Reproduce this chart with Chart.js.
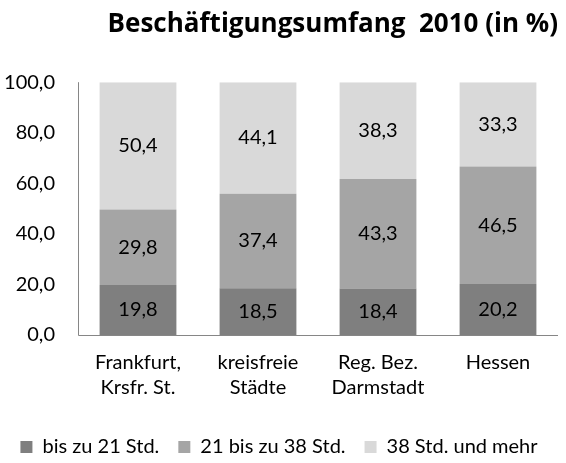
<!DOCTYPE html>
<html>
<head>
<meta charset="utf-8">
<script src="https://cdn.jsdelivr.net/npm/chart.js@4"></script>
<style>
  body { margin: 0; background: #fff; }
</style>
</head>
<body>
<canvas id="chart" width="566" height="463"></canvas>
<script>
// ---------------- data ----------------
const regions = [['Frankfurt,', 'Krsfr. St.'], ['kreisfreie', 'Städte'], ['Reg. Bez.', 'Darmstadt'], ['Hessen']];
const upTo21 = [19.8, 18.5, 18.4, 20.2];
const from21to38 = [29.8, 37.4, 43.3, 46.5];
const from38 = [50.4, 44.1, 38.3, 33.3];
const seriesNames = ['bis zu 21 Std.', '21 bis zu 38 Std.', '38 Std. und mehr'];
const yTicks = [0, 20, 40, 60, 80, 100];

const FONT = 'Lato, "Open Sans", sans-serif';
const AXIS_COLOR = '#868686';

function fmt(v){
	return v.toFixed(1).replace('.', ',');
}

// value labels in the middle of each segment + the two axis lines
const segmentLabels = {
	id: 'segmentLabels',
	afterDatasetsDraw(chart){
		const ctx = chart.ctx;
		const a = chart.chartArea;
		ctx.save();
		ctx.strokeStyle = AXIS_COLOR;
		ctx.lineWidth = 1;
		ctx.beginPath();
		ctx.moveTo(a.left + 0.5, a.top);
		ctx.lineTo(a.left + 0.5, a.bottom + 0.5);
		ctx.lineTo(a.right, a.bottom + 0.5);
		ctx.stroke();

		ctx.font = '20px ' + FONT;
		ctx.fillStyle = '#000';
		ctx.textAlign = 'center';
		ctx.textBaseline = 'middle';
		chart.data.datasets.forEach((ds, i) => {
			chart.getDatasetMeta(i).data.forEach((bar, j) => {
				ctx.fillText(fmt(ds.data[j]), bar.x, (bar.y + bar.base) / 2);
			});
		});
		ctx.restore();
	}
};

const data = {
	labels: regions,
	datasets: [
		{label: seriesNames[0], data: upTo21, backgroundColor: '#7f7f7f'},
		{label: seriesNames[1], data: from21to38, backgroundColor: '#a5a5a5'},
		{label: seriesNames[2], data: from38, backgroundColor: '#d9d9d9'}
	]
};

const config = {type: 'bar', data: data, plugins: [segmentLabels], options: {
	responsive: false,
	animation: false,
	layout: {padding: {top: 0, left: 0, right: 8, bottom: -4}},
	datasets: {bar: {categoryPercentage: 1, barPercentage: 0.64}},
	plugins: {
		title: {
			display: true,
			text: 'Beschäftigungsumfang  2010 (in %)',
			align: 'end',
			color: '#000',
			font: {family: '"Open Sans", sans-serif', size: 26, weight: 'bold'},
			padding: {top: 9, bottom: 42}
		},
		legend: {
			position: 'bottom',
			labels: {
				color: '#000',
				font: {family: FONT, size: 20},
				boxWidth: 12,
				boxHeight: 12,
				padding: 19
			}
		},
		tooltip: {enabled: false}
	},
	scales: {
		x: {
			stacked: true,
			grid: {display: false, drawTicks: false},
			border: {display: false},
			ticks: {color: '#000', font: {family: FONT, size: 20, lineHeight: 1.25}, padding: 15, maxRotation: 0},
			afterFit: (scale) => { scale.height = 83; }
		},
		y: {
			stacked: true,
			min: 0,
			max: 100,
			afterBuildTicks: (scale) => { scale.ticks = yTicks.map(v => ({value: v})); },
			grid: {display: false, drawTicks: false},
			border: {display: false},
			ticks: {color: '#000', font: {family: FONT, size: 20}, padding: 23, callback: (v) => fmt(v)},
			afterFit: (scale) => { scale.width = 78; }
		}
	}
}};

const chart = new Chart(document.getElementById('chart'), config);
</script>
</body>
</html>
